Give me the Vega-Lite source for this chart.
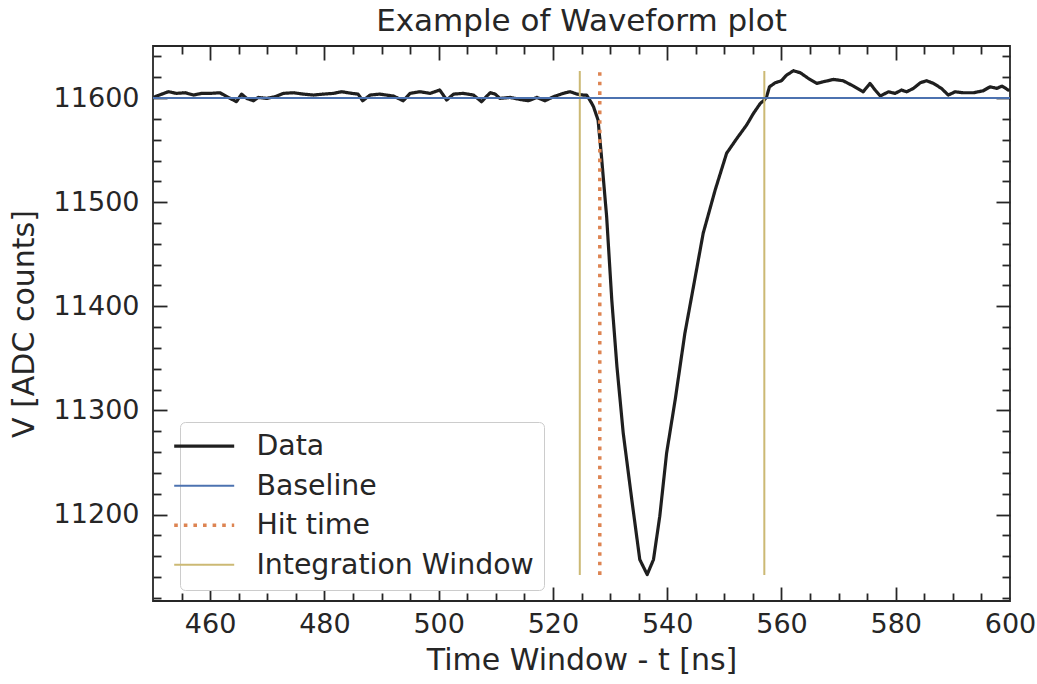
{
  "$schema": "https://vega.github.io/schema/vega-lite/v6.json",
  "autosize": {"type": "none"},
  "width": 857,
  "height": 555,
  "padding": {"left": 153, "top": 46, "right": 27, "bottom": 83},
  "background": "white",
  "title": {"text": "Example of Waveform plot", "font": "DejaVu Sans", "fontSize": 31, "fontWeight": "normal", "color": "#262626", "offset": 7, "anchor": "middle"},
  "config": {
    "view": {"stroke": "#262626", "strokeWidth": 1.8},
    "font": "DejaVu Sans",
    "axis": {"grid": false, "domain": false, "labelFont": "DejaVu Sans", "titleFont": "DejaVu Sans", "labelColor": "#262626", "titleColor": "#262626", "tickColor": "#262626", "labelFontSize": 27, "titleFontSize": 30, "titleFontWeight": "normal"},
    "legend": {"title": null}
  },
  "resolve": {"axis": {"x": "independent", "y": "independent"}},
  "layer": [
    {
      "data": {"values": [
        {"t": 450.35, "v": 11601.3}, {"t": 452.7, "v": 11606.1}, {"t": 454.1, "v": 11604.5}, {"t": 455.6, "v": 11605.1},
        {"t": 457.1, "v": 11602.9}, {"t": 458.5, "v": 11604.5}, {"t": 460.0, "v": 11604.5}, {"t": 461.7, "v": 11605.1},
        {"t": 463.2, "v": 11600.6}, {"t": 464.6, "v": 11596.5}, {"t": 465.5, "v": 11603.8}, {"t": 466.4, "v": 11599.7},
        {"t": 467.6, "v": 11597.4}, {"t": 468.4, "v": 11600.6}, {"t": 469.9, "v": 11599.7}, {"t": 471.4, "v": 11601.3},
        {"t": 472.8, "v": 11604.5}, {"t": 474.6, "v": 11605.1}, {"t": 476.3, "v": 11603.8}, {"t": 478.1, "v": 11602.9},
        {"t": 479.8, "v": 11603.8}, {"t": 481.6, "v": 11604.5}, {"t": 483.0, "v": 11606.1}, {"t": 484.8, "v": 11604.5},
        {"t": 485.9, "v": 11603.8}, {"t": 486.7, "v": 11597.4}, {"t": 488.0, "v": 11602.9}, {"t": 489.7, "v": 11603.8},
        {"t": 492.1, "v": 11601.9}, {"t": 493.8, "v": 11597.4}, {"t": 495.0, "v": 11604.5}, {"t": 496.7, "v": 11606.1},
        {"t": 498.5, "v": 11604.5}, {"t": 500.2, "v": 11607.7}, {"t": 501.4, "v": 11598.1}, {"t": 502.6, "v": 11603.8},
        {"t": 504.3, "v": 11604.5}, {"t": 506.1, "v": 11602.9}, {"t": 507.5, "v": 11596.5}, {"t": 509.0, "v": 11605.1},
        {"t": 509.9, "v": 11603.8}, {"t": 510.7, "v": 11599.7}, {"t": 512.5, "v": 11600.6}, {"t": 514.2, "v": 11598.7},
        {"t": 515.7, "v": 11597.4}, {"t": 517.2, "v": 11600.6}, {"t": 518.6, "v": 11597.4}, {"t": 520.1, "v": 11601.3},
        {"t": 521.8, "v": 11604.5}, {"t": 523.0, "v": 11606.1}, {"t": 524.2, "v": 11603.8}, {"t": 525.3, "v": 11602.9},
        {"t": 525.9, "v": 11602.9}, {"t": 526.8, "v": 11594.9}, {"t": 527.1, "v": 11591.7}, {"t": 527.9, "v": 11578.9},
        {"t": 528.5, "v": 11543.7}, {"t": 529.4, "v": 11486.1}, {"t": 530.3, "v": 11406.2}, {"t": 531.2, "v": 11342.3},
        {"t": 532.3, "v": 11278.4}, {"t": 533.8, "v": 11214.4}, {"t": 535.2, "v": 11156.8}, {"t": 536.5, "v": 11142.4},
        {"t": 537.6, "v": 11156.8}, {"t": 538.7, "v": 11198.4}, {"t": 539.9, "v": 11259.2}, {"t": 541.4, "v": 11310.3},
        {"t": 543.1, "v": 11374.3}, {"t": 544.6, "v": 11419.0}, {"t": 546.3, "v": 11470.2}, {"t": 548.4, "v": 11511.8},
        {"t": 550.4, "v": 11547.0}, {"t": 552.2, "v": 11561.3}, {"t": 553.9, "v": 11574.1}, {"t": 555.1, "v": 11585.3},
        {"t": 556.3, "v": 11594.9}, {"t": 557.0, "v": 11598.1}, {"t": 557.4, "v": 11601.3}, {"t": 557.9, "v": 11610.8},
        {"t": 558.9, "v": 11614.7}, {"t": 560.0, "v": 11616.6}, {"t": 560.9, "v": 11622.1}, {"t": 562.1, "v": 11626.2},
        {"t": 563.3, "v": 11624.3}, {"t": 564.7, "v": 11618.9}, {"t": 566.2, "v": 11614.1}, {"t": 567.3, "v": 11615.6},
        {"t": 569.1, "v": 11617.9}, {"t": 570.8, "v": 11616.6}, {"t": 572.6, "v": 11611.5}, {"t": 574.3, "v": 11606.0},
        {"t": 575.5, "v": 11614.1}, {"t": 576.4, "v": 11607.7}, {"t": 577.3, "v": 11601.9}, {"t": 578.7, "v": 11606.0},
        {"t": 579.9, "v": 11604.5}, {"t": 581.0, "v": 11607.7}, {"t": 581.9, "v": 11606.0}, {"t": 583.1, "v": 11609.3},
        {"t": 584.3, "v": 11614.7}, {"t": 585.4, "v": 11616.6}, {"t": 586.6, "v": 11614.1}, {"t": 588.0, "v": 11609.3},
        {"t": 589.2, "v": 11602.9}, {"t": 590.4, "v": 11606.0}, {"t": 591.8, "v": 11605.1}, {"t": 593.6, "v": 11605.1},
        {"t": 595.3, "v": 11607.0}, {"t": 596.5, "v": 11610.8}, {"t": 597.7, "v": 11609.3}, {"t": 598.6, "v": 11611.5},
        {"t": 599.7, "v": 11607.7}
      ]},
      "mark": {"type": "line", "clip": true, "strokeJoin": "round", "strokeCap": "round"},
      "encoding": {
        "x": {"field": "t", "type": "quantitative", "scale": {"domain": [450, 600], "nice": false, "zero": false},
          "axis": {"orient": "bottom", "values": [460, 480, 500, 520, 540, 560, 580, 600], "ticks": false, "labelPadding": 10, "title": "Time Window - t [ns]", "titlePadding": 8, "labelFlush": false}},
        "y": {"field": "v", "type": "quantitative", "scale": {"domain": [11117, 11650], "nice": false, "zero": false},
          "axis": {"orient": "left", "values": [11200, 11300, 11400, 11500, 11600], "format": "d", "ticks": false, "labelPadding": 14, "title": "V [ADC counts]", "titlePadding": 14}},
        "color": {"datum": "Data", "type": "nominal",
          "scale": {"domain": ["Data", "Baseline", "Hit time", "Integration Window"], "range": ["#1f1f1f", "#4c72b0", "#dd8452", "#ccb974"]},
          "legend": {"title": null, "orient": "none", "legendX": 27, "legendY": 376, "symbolType": "M-3,0H3", "symbolSize": 400, "labelFontSize": 28.4, "labelFont": "DejaVu Sans", "labelColor": "#262626", "labelLimit": 500, "padding": 10, "rowPadding": 10.5, "labelOffset": 38, "fillColor": "white", "strokeColor": "#cccccc", "cornerRadius": 5}},
        "strokeDash": {"datum": "Data", "type": "nominal",
          "scale": {"domain": ["Data", "Baseline", "Hit time", "Integration Window"], "range": [[1, 0], [1, 0], [3.6, 6], [1, 0]]},
          "legend": {"title": null}},
        "strokeWidth": {"datum": "Data", "type": "ordinal",
          "scale": {"type": "ordinal", "domain": ["Data", "Baseline", "Hit time", "Integration Window"], "range": [3.2, 2, 3.5, 2]},
          "legend": {"title": null}}
      }
    },
    {
      "data": {"values": [
        {"series": "Integration Window", "t": 524.7, "vmin": 11142, "vmax": 11626},
        {"series": "Integration Window", "t": 557.0, "vmin": 11142, "vmax": 11626}
      ]},
      "mark": {"type": "rule"},
      "encoding": {
        "x": {"field": "t", "type": "quantitative",
          "axis": {"orient": "bottom", "values": [455, 460, 465, 470, 475, 480, 485, 490, 495, 500, 505, 510, 515, 520, 525, 530, 535, 540, 545, 550, 555, 560, 565, 570, 575, 580, 585, 590, 595],
            "labels": false, "title": null, "tickWidth": 1.8, "tickSize": {"condition": {"test": "datum.value % 20 === 0", "value": -14}, "value": -8}}},
        "y": {"field": "vmin", "type": "quantitative",
          "axis": {"orient": "left", "values": [11120, 11140, 11160, 11180, 11200, 11220, 11240, 11260, 11280, 11300, 11320, 11340, 11360, 11380, 11400, 11420, 11440, 11460, 11480, 11500, 11520, 11540, 11560, 11580, 11600, 11620, 11640],
            "labels": false, "title": null, "tickWidth": 1.8, "tickSize": {"condition": {"test": "datum.value % 100 === 0", "value": -14}, "value": -8}}},
        "y2": {"field": "vmax"},
        "color": {"field": "series", "type": "nominal", "legend": {"title": null}, "scale": {"domain": ["Data", "Baseline", "Hit time", "Integration Window"], "range": ["#1f1f1f", "#4c72b0", "#dd8452", "#ccb974"]}},
        "strokeDash": {"field": "series", "type": "nominal", "legend": {"title": null}, "scale": {"domain": ["Data", "Baseline", "Hit time", "Integration Window"], "range": [[1, 0], [1, 0], [3.6, 6], [1, 0]]}},
        "strokeWidth": {"field": "series", "type": "ordinal", "legend": {"title": null}, "scale": {"type": "ordinal", "domain": ["Data", "Baseline", "Hit time", "Integration Window"], "range": [3.2, 2, 3.5, 2]}}
      }
    },
    {
      "data": {"values": [
        {"series": "Hit time", "t": 528.2, "vmin": 11142, "vmax": 11626}
      ]},
      "mark": {"type": "rule"},
      "encoding": {
        "x": {"field": "t", "type": "quantitative",
          "axis": {"orient": "top", "values": [455, 460, 465, 470, 475, 480, 485, 490, 495, 500, 505, 510, 515, 520, 525, 530, 535, 540, 545, 550, 555, 560, 565, 570, 575, 580, 585, 590, 595],
            "labels": false, "title": null, "tickWidth": 1.8, "tickSize": {"condition": {"test": "datum.value % 20 === 0", "value": -14}, "value": -8}}},
        "y": {"field": "vmin", "type": "quantitative",
          "axis": {"orient": "right", "values": [11120, 11140, 11160, 11180, 11200, 11220, 11240, 11260, 11280, 11300, 11320, 11340, 11360, 11380, 11400, 11420, 11440, 11460, 11480, 11500, 11520, 11540, 11560, 11580, 11600, 11620, 11640],
            "labels": false, "title": null, "tickWidth": 1.8, "tickSize": {"condition": {"test": "datum.value % 100 === 0", "value": -14}, "value": -8}}},
        "y2": {"field": "vmax"},
        "color": {"field": "series", "type": "nominal", "legend": {"title": null}, "scale": {"domain": ["Data", "Baseline", "Hit time", "Integration Window"], "range": ["#1f1f1f", "#4c72b0", "#dd8452", "#ccb974"]}},
        "strokeDash": {"field": "series", "type": "nominal", "legend": {"title": null}, "scale": {"domain": ["Data", "Baseline", "Hit time", "Integration Window"], "range": [[1, 0], [1, 0], [3.6, 6], [1, 0]]}},
        "strokeWidth": {"field": "series", "type": "ordinal", "legend": {"title": null}, "scale": {"type": "ordinal", "domain": ["Data", "Baseline", "Hit time", "Integration Window"], "range": [3.2, 2, 3.5, 2]}}
      }
    },
    {
      "data": {"values": [
        {"series": "Baseline", "v": 11600}
      ]},
      "mark": {"type": "rule"},
      "encoding": {
        "y": {"field": "v", "type": "quantitative", "axis": null},
        "color": {"field": "series", "type": "nominal", "legend": {"title": null}, "scale": {"domain": ["Data", "Baseline", "Hit time", "Integration Window"], "range": ["#1f1f1f", "#4c72b0", "#dd8452", "#ccb974"]}},
        "strokeDash": {"field": "series", "type": "nominal", "legend": {"title": null}, "scale": {"domain": ["Data", "Baseline", "Hit time", "Integration Window"], "range": [[1, 0], [1, 0], [3.6, 6], [1, 0]]}},
        "strokeWidth": {"field": "series", "type": "ordinal", "legend": {"title": null}, "scale": {"type": "ordinal", "domain": ["Data", "Baseline", "Hit time", "Integration Window"], "range": [3.2, 2, 3.5, 2]}}
      }
    }
  ]
}
